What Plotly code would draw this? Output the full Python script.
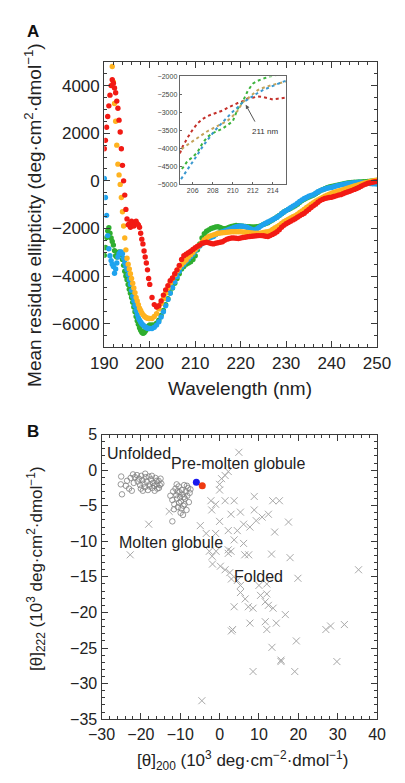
import plotly.graph_objects as go

# ---------------- Panel A data ----------------
WL = [190.0, 190.25, 190.5, 190.75, 191.0, 191.25, 191.5, 191.75, 192.0, 192.25, 192.5, 192.75,
      193.0, 193.25, 193.5, 193.75, 194.0, 194.25, 194.5, 194.75, 195.0, 195.25, 195.5, 195.75,
      196.0, 196.25, 196.5, 196.75, 197.0, 197.25, 197.5, 197.75, 198.0, 198.25, 198.5, 198.75,
      199.0, 199.25, 199.5, 199.75, 200.0,
      200.5, 201.0, 201.5, 202.0, 202.5, 203.0, 203.5, 204.0, 204.5, 205.0,
      205.5, 206.0, 206.5, 207.0, 207.5, 208.0, 208.5, 209.0, 209.5, 210.0,
      210.5, 211.0, 211.5, 212.0, 212.5, 213.0, 213.5, 214.0, 214.5, 215.0,
      215.5, 216.0, 216.5, 217.0, 217.5, 218.0, 218.5, 219.0, 219.5, 220.0,
      220.5, 221.0, 221.5, 222.0, 222.5, 223.0, 223.5, 224.0, 224.5, 225.0,
      225.5, 226.0, 226.5, 227.0, 227.5, 228.0, 228.5, 229.0, 229.5, 230.0,
      230.5, 231.0, 231.5, 232.0, 232.5, 233.0, 233.5, 234.0, 234.5, 235.0,
      235.5, 236.0, 236.5, 237.0, 237.5, 238.0, 238.5, 239.0, 239.5, 240.0,
      240.5, 241.0, 241.5, 242.0, 242.5, 243.0, 243.5, 244.0, 244.5, 245.0,
      245.5, 246.0, 246.5, 247.0, 247.5, 248.0, 248.5, 249.0, 249.5, 250.0]

RED = [1350, 1700, 2250, 2700, 3150, 3600, 4000, 4250, 4100, 3900, 3700, 3350,
       3050, 2550, 2050, 1350, 650, 0, -600, -1200, -1600, -1850, -1800, -1950,
       -1700, -1750, -1900, -1750, -1700, -1800, -1850, -1950, -2200, -2450, -2650, -2950,
       -3200, -3450, -3740, -4100, -4350,
       -4900, -5200, -5300, -5250, -5050, -4800, -4580, -4400, -4200, -4080,
       -3900, -3740, -3550, -3300, -3150, -3080, -3020, -2960, -2880, -2810,
       -2750, -2700, -2620, -2600, -2580, -2600, -2630, -2650, -2620, -2600,
       -2580, -2560, -2500, -2450, -2420, -2400, -2400, -2410, -2420, -2400,
       -2380, -2370, -2350, -2340, -2330, -2320, -2310, -2300, -2300, -2310,
       -2330, -2340, -2300, -2250, -2200, -2140, -2050, -1950, -1870, -1800,
       -1750, -1700, -1640, -1590, -1530, -1470, -1410, -1360, -1280, -1200,
       -1120, -1050, -980, -900, -830, -780, -740, -720, -700, -690,
       -660, -630, -600, -580, -540, -500, -470, -440, -400, -360,
       -320, -280, -230, -180, -140, -100, -80, -60, -40, -30]

ORANGE = [None, None, None, None, None, None, None, 4800, 4150, 3250, 2500, 1500,
          700, 250, -150, -700, -1300, -1900, -2400, -2900, -3250, -3500, -3700, -3900,
          -4100, -4300, -4500, -4700, -4900, -5050, -5200, -5350, -5450, -5550, -5620, -5680,
          -5720, -5750, -5770, -5780, -5780,
          -5780, -5700, -5580, -5380, -5150, -4950, -4720, -4500, -4280, -4100,
          -3950, -3780, -3640, -3520, -3420, -3330, -3200, -3100, -3000, -2880,
          -2780, -2700, -2580, -2470, -2400, -2340, -2300, -2270, -2240, -2200,
          -2190, -2180, -2170, -2160, -2150, -2140, -2140, -2140, -2140, -2140,
          -2150, -2160, -2170, -2180, -2190, -2200, -2200, -2200, -2190, -2170,
          -2150, -2140, -2100, -2040, -1980, -1930, -1860, -1790, -1720, -1660,
          -1610, -1560, -1510, -1460, -1400, -1330, -1260, -1190, -1120, -1050,
          -980, -920, -860, -800, -750, -700, -650, -600, -560, -520,
          -490, -460, -430, -400, -370, -340, -310, -280, -250, -220,
          -190, -160, -130, -100, -80, -60, -30, -10, 20, 40]

GREEN = [-3130, -2800, -2380, -2100, -1970, -2200, -2400, -2550, -2700, -2930, -3150, -3200,
         -3060, -2990, -3030, -3100, -3300, -3550, -3800, -4000, -4150, -4350, -4550, -4720,
         -4900, -5100, -5300, -5500, -5700, -5880, -6020, -6170, -6280, -6360, -6400, -6380,
         -6320, -6250, -6150, -6100, -6050,
         -6050, -6050, -5980, -5850, -5650, -5450, -5200, -4950, -4700, -4500,
         -4300, -4100, -3900, -3700, -3600, -3500, -3450, -3400, -3300, -3150,
         -2900, -2650, -2400, -2220, -2120, -2060, -2000, -1970, -1940, -1930,
         -1960, -2000, -2010, -1990, -1950, -1920, -1890, -1870, -1880, -1900,
         -1910, -1920, -1930, -1930, -1940, -1940, -1930, -1920, -1880, -1830,
         -1790, -1760, -1700, -1640, -1580, -1520, -1450, -1380, -1310, -1250,
         -1200, -1150, -1100, -1050, -980, -900, -830, -770, -720, -680,
         -640, -600, -540, -480, -420, -370, -330, -290, -260, -240,
         -210, -190, -170, -150, -130, -110, -90, -80, -70, -60,
         -60, -50, -50, -40, -40, -30, -20, -10, 0, 0]

BLUE = [100, -700, -1450, -2300, -2850, -3150, -3350, -3500, -3600, -3880, -3700, -3450,
        -3200, -3060, -3000, -2990, -3060, -3250, -3450, -3600, -3740, -3950, -4150, -4350,
        -4600, -4850, -5050, -5250, -5450, -5620, -5760, -5850, -5930, -6000, -6050, -6100,
        -6140, -6170, -6190, -6200, -6200,
        -6200, -6150, -6060, -5920, -5720, -5500, -5250, -4980, -4720, -4480,
        -4250, -4020, -3800, -3620, -3500, -3380, -3280, -3180, -3080, -2940,
        -2820, -2740, -2640, -2540, -2460, -2400, -2370, -2340, -2270, -2200,
        -2170, -2140, -2100, -2070, -2030, -2000, -1960, -1930, -1910, -1900,
        -1910, -1930, -1960, -2000, -2040, -2070, -2020, -1960, -1890, -1830,
        -1780, -1730, -1680, -1630, -1580, -1530, -1460, -1380, -1310, -1250,
        -1190, -1130, -1070, -1010, -940, -870, -800, -740, -700, -650,
        -610, -580, -520, -460, -410, -370, -340, -310, -290, -280,
        -250, -220, -190, -170, -150, -130, -115, -100, -90, -80,
        -70, -60, -70, -80, -90, -100, -110, -120, -125, -130]

# inset (zoom of the 205-215 nm region)
WL_INSET = [204.5, 205.0, 205.5, 206.0, 206.5, 207.0, 207.5, 208.0, 208.5, 209.0, 209.5, 210.0,
            210.5, 211.0, 211.5, 212.0, 212.5, 213.0, 213.5, 214.0, 214.5, 215.0, 215.5]
RED_INSET = [-4300, -3950, -3700, -3480, -3300, -3180, -3100, -3050, -3000, -2950, -2870, -2800,
             -2740, -2690, -2610, -2590, -2560, -2570, -2610, -2640, -2620, -2590, -2580]
TAN_INSET = [-4150, -4000, -3900, -3800, -3700, -3600, -3520, -3450, -3370, -3300, -3230, -3100,
             -2950, -2720, -2600, -2480, -2380, -2320, -2270, -2230, -2200, -2160, -2130]
GREEN_INSET = [-4700, -4550, -4350, -4250, -4100, -3850, -3680, -3580, -3520, -3450, -3350, -3250,
               -2900, -2700, -2400, -2200, -2120, -2060, -2010, -1980, -1950, -1920, -1900]
BLUE_INSET = [-5000, -4800, -4580, -4380, -4170, -3950, -3750, -3580, -3420, -3270, -3120, -2980,
              -2860, -2720, -2640, -2540, -2460, -2380, -2320, -2250, -2200, -2150, -2100]

# ---------------- Panel B data ----------------
CIRCLE_X = [-25.0, -25.1, -24.8, -23.5, -23.0, -22.3, -22.0, -21.5, -21.0, -20.8, -20.5, -20.2,
            -19.9, -19.6, -19.3, -19.0, -18.8, -18.5, -18.2, -18.0, -17.7, -17.4, -17.1, -16.9,
            -16.6, -16.3, -16.0, -15.8, -15.5, -15.2, -15.0, -14.8, -21.8, -20.0, -18.9, -17.2,
            -16.0, -23.8, -22.6, -19.5, -17.8, -16.5, -15.4,
            -12.5, -12.0, -11.8, -11.5, -11.2, -11.0, -10.8, -10.6, -10.4, -10.2, -10.0, -9.8,
            -9.6, -9.4, -9.2, -9.0, -8.8, -8.6, -8.4, -8.2, -8.0, -7.8, -7.6, -7.4,
            -10.9, -9.9, -9.3, -8.9, -10.3, -11.6, -12.0, -9.7, -8.3, -10.7, -9.1]
CIRCLE_Y = [-0.9, -2.0, -3.4, -1.5, -2.6, -2.9, -0.6, -1.0, -0.7, -1.6, -1.2, -2.1,
            -0.8, -1.4, -1.9, -2.4, -1.0, -1.6, -2.8, -0.9, -2.0, -1.3, -2.5, -1.8,
            -2.2, -1.1, -2.0, -2.6, -1.5, -2.1, -1.2, -1.9, -1.8, -2.6, -0.5, -0.8,
            -1.5, -2.2, -1.1, -2.9, -2.3, -2.9, -2.5,
            -3.6, -4.2, -3.0, -4.8, -2.6, -3.5, -4.0, -5.2, -2.3, -3.1, -3.8, -4.4,
            -2.8, -3.4, -5.0, -2.1, -4.0, -3.0, -5.6, -3.6, -2.5, -4.5, -3.2, -2.7,
            -2.0, -6.0, -6.3, -4.8, -4.6, -5.5, -7.2, -5.4, -2.2, -3.0, -3.8]

CROSS_X = [4.9, 2.2, 1.4, 0.5, 0.0, 0.0, -2.2, -1.0, 1.4, 3.7, -2.0, -12.8, 8.8, 8.8, 13.5, 15.2,
           -4.9, 0.0, 2.9, 5.3, 6.1, 7.7, 9.3, 10.8, 12.4, 17.5, 14.0, -18.0, -22.7, -3.4, -1.0,
           2.2, 4.5, 3.7, 6.1, 13.2, 17.9, -1.8, 35.3, -2.6, -1.9, -0.9, 2.2, 2.2, 2.9, 6.4,
           7.4, 0.2, 1.4, 2.6, 3.0, 4.5, 5.3, 5.3, 6.5, 7.3, 8.5, 3.7, 10.0, 12.0, 10.4, 12.0,
           11.6, 12.4, 13.6, 19.9, 16.7, 7.7, 11.6, 14.4, 3.0, 3.3, 12.0, 27.0, 28.2, 31.7,
           19.5, 13.3, 15.6, 15.6, 29.8, 8.5, 19.1, -4.5]
CROSS_Y = [2.5, -0.2, -0.75, -1.2, -2.0, -2.8, -4.3, -4.8, -4.3, -4.3, -5.6, -5.8, -3.7, -5.6, -4.3, -4.3,
           -7.8, -7.2, -6.2, -5.9, -7.6, -8.0, -7.1, -6.6, -6.2, -7.3, -8.7, -7.6, -11.9, -8.9, -8.9,
           -8.5, -8.5, -9.8, -10.3, -11.8, -12.3, -13.2, -14.0, -11.4, -12.1, -11.4, -11.2, -11.7, -11.4, -11.9,
           -11.9, -13.5, -14.0, -14.4, -15.3, -15.5, -16.2, -17.2, -18.1, -19.2, -19.4, -19.2, -16.2, -16.0, -17.6, -17.4,
           -18.5, -19.0, -19.4, -15.2, -20.3, -21.5, -21.3, -21.5, -22.6, -22.4, -22.4, -22.4, -21.9, -21.7,
           -24.0, -24.9, -26.7, -26.9, -26.9, -28.3, -28.3, -32.4]

BLUE_PT = (-5.9, -1.7)
RED_PT = (-4.4, -2.2)

FONT = "Liberation Sans, Arial, Helvetica, sans-serif"
W, H = 405, 783


def px_x(p):
    return p / W


def px_y(p):
    return 1 - p / H


fig = go.Figure()

main_colors = [("GREEN", GREEN, "#2fae2f"), ("BLUE", BLUE, "#1fa3ee"),
               ("ORANGE", ORANGE, "#ffb320"), ("RED", RED, "#f21a14")]
for name, ys, col in main_colors:
    fig.add_trace(go.Scatter(x=WL, y=ys, mode="markers", name=name,
                             marker=dict(size=5.4, color=col, line=dict(width=0)),
                             xaxis="x", yaxis="y", showlegend=False))

inset_colors = [(RED_INSET, "#c4302a"), (TAN_INSET, "#c4a35a"),
                (GREEN_INSET, "#3db33d"), (BLUE_INSET, "#3a98cf")]
for ys, col in inset_colors:
    fig.add_trace(go.Scatter(x=WL_INSET, y=ys, mode="lines",
                             line=dict(color=col, width=2, dash="dot"),
                             xaxis="x2", yaxis="y2", showlegend=False))

fig.add_trace(go.Scatter(x=CIRCLE_X, y=CIRCLE_Y, mode="markers",
                         marker=dict(symbol="circle-open", size=5.5, color="#808080",
                                     line=dict(width=0.8, color="#808080")),
                         xaxis="x3", yaxis="y3", showlegend=False))
fig.add_trace(go.Scatter(x=CROSS_X, y=CROSS_Y, mode="markers",
                         marker=dict(symbol="x-thin-open", size=7, color="#a8a8a8",
                                     line=dict(width=1, color="#a8a8a8")),
                         xaxis="x3", yaxis="y3", showlegend=False))
fig.add_trace(go.Scatter(x=[BLUE_PT[0]], y=[BLUE_PT[1]], mode="markers",
                         marker=dict(size=7, color="#1a1aee"),
                         xaxis="x3", yaxis="y3", showlegend=False))
fig.add_trace(go.Scatter(x=[RED_PT[0]], y=[RED_PT[1]], mode="markers",
                         marker=dict(size=7, color="#ee3a10"),
                         xaxis="x3", yaxis="y3", showlegend=False))

axcommon = dict(showgrid=False, zeroline=False, showline=True, linecolor="#3a3a3a",
                linewidth=1.2, mirror="allticks", ticks="inside", tickcolor="#3a3a3a",
                ticklen=6, tickwidth=1)

fig.update_layout(
    width=W, height=H, margin=dict(l=0, r=0, t=0, b=0),
    paper_bgcolor="white", plot_bgcolor="white",
    font=dict(family=FONT, color="#222"),
    xaxis=dict(domain=[px_x(97), px_x(390)], anchor="y", range=[190, 250],
               tickvals=[190, 200, 210, 220, 230, 240, 250],
               tickfont=dict(size=17, color="#222"),
               minor=dict(ticks="inside", ticklen=3, dtick=2, tickcolor="#3a3a3a"), **axcommon),
    yaxis=dict(domain=[px_y(347), px_y(55)], anchor="x", range=[-7000, 5000],
               tickvals=[-6000, -4000, -2000, 0, 2000, 4000],
               tickfont=dict(size=17, color="#222"),
               minor=dict(ticks="inside", ticklen=3, dtick=500, tickcolor="#3a3a3a"), **axcommon),
    xaxis2=dict(domain=[px_x(178), px_x(292)], anchor="y2", range=[204.7, 215.3],
                tickvals=[206, 208, 210, 212, 214], tickfont=dict(size=7, color="#444"),
                showgrid=False, zeroline=False, showline=True, linecolor="#666", linewidth=1,
                mirror=True, ticks="inside", ticklen=2, tickcolor="#666"),
    yaxis2=dict(domain=[px_y(180), px_y(70)], anchor="x2", range=[-5000, -2000],
                tickvals=[-5000, -4500, -4000, -3500, -3000, -2500, -2000],
                tickfont=dict(size=7, color="#444"),
                showgrid=False, zeroline=False, showline=True, linecolor="#666", linewidth=1,
                mirror=True, ticks="inside", ticklen=2, tickcolor="#666"),
    xaxis3=dict(domain=[px_x(94), px_x(390)], anchor="y3", range=[-30, 40],
                tickvals=[-30, -20, -10, 0, 10, 20, 30, 40],
                tickfont=dict(size=16, color="#222"),
                minor=dict(ticks="inside", ticklen=3, dtick=2, tickcolor="#3a3a3a"), **axcommon),
    yaxis3=dict(domain=[px_y(727), px_y(436)], anchor="x3", range=[-35, 5],
                tickvals=[-35, -30, -25, -20, -15, -10, -5, 0, 5],
                tickfont=dict(size=16, color="#222"),
                minor=dict(ticks="inside", ticklen=3, dtick=1, tickcolor="#3a3a3a"), **axcommon),
)

ann = []
C = dict(xanchor="center", yanchor="middle", showarrow=False)
# panel letters
ann.append(dict(text="<b>A</b>", x=px_x(20), y=px_y(24), xref="paper", yref="paper",
                font=dict(size=17, color="#111"), **C))
ann.append(dict(text="<b>B</b>", x=px_x(20), y=px_y(433), xref="paper", yref="paper",
                font=dict(size=17, color="#111"), **C))
# axis titles
ann.append(dict(text="Wavelength (nm)", x=px_x(243), y=px_y(389), xref="paper", yref="paper",
                font=dict(size=19, color="#222"), **C))
ann.append(dict(text="Mean residue ellipticity (deg·cm<sup>2</sup>·dmol<sup>−1</sup>)",
                x=px_x(21), y=px_y(212), xref="paper", yref="paper", textangle=-90,
                font=dict(size=19, color="#222"), **C))
ann.append(dict(text="[θ]<sub>200</sub> (10<sup>3</sup> deg·cm<sup>−2</sup>·dmol<sup>−1</sup>)",
                x=px_x(245), y=px_y(769), xref="paper", yref="paper",
                font=dict(size=17, color="#222"), **C))
ann.append(dict(text="[θ]<sub>222</sub> (10<sup>3</sup> deg·cm<sup>2</sup>·dmol<sup>−1</sup>)",
                x=px_x(24), y=px_y(573), xref="paper", yref="paper", textangle=-90,
                font=dict(size=17, color="#222"), **C))
# inset label + arrow
ann.append(dict(text="211 nm", x=213.2, y=-3530, xref="x2", yref="y2",
                font=dict(size=8, color="#333"), **C))
ann.append(dict(text="", x=211.3, y=-2790, xref="x2", yref="y2", ax=212.3, ay=-3300,
                axref="x2", ayref="y2", showarrow=True, arrowhead=2, arrowsize=0.8,
                arrowwidth=1, arrowcolor="#555"))
# panel B region labels
for t, x, y in [("Unfolded", -20.5, 2.3), ("Pre-molten globule", 4.8, 1.0),
                ("Molten globule", -12.4, -10.1), ("Folded", 10.0, -14.9)]:
    ann.append(dict(text=t, x=x, y=y, xref="x3", yref="y3",
                    font=dict(size=16, color="#222"), **C))
fig.update_layout(annotations=ann)

fig.write_html("out.html")
